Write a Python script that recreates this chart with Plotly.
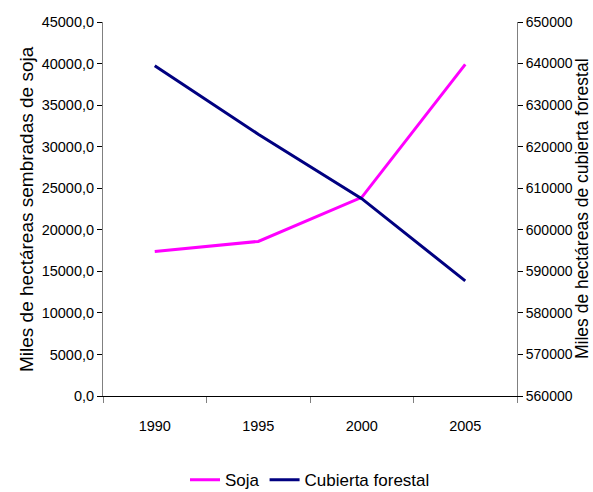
import plotly.graph_objects as go

years = ["1990", "1995", "2000", "2005"]
soja = [17400, 18600, 23900, 39900]
forest = [639500, 623000, 607500, 587700]

left_title = "Miles de hectáreas sembradas de soja"
right_title = "Miles de hectáreas de cubierta forestal"

FONT = "Liberation Sans, Arial, sans-serif"

fig = go.Figure()
fig.add_trace(go.Scatter(x=years, y=soja, name="Soja", mode="lines",
                         line=dict(color="#FF00FF", width=3)))
fig.add_trace(go.Scatter(x=years, y=forest, name="Cubierta forestal", mode="lines",
                         line=dict(color="#000080", width=3), yaxis="y2"))

fig.update_layout(
    width=593, height=492,
    margin=dict(l=103, r=76, t=22, b=96, autoexpand=False),
    plot_bgcolor="white", paper_bgcolor="white",
    font=dict(family=FONT, size=14.5, color="#000000"),
    separators=",.",
    showlegend=True,
    legend=dict(orientation="h", x=0.5, xanchor="center", y=-0.225, yanchor="middle",
                font=dict(size=17), tracegroupgap=0),
    xaxis=dict(type="category", showline=True, linecolor="#000000", linewidth=1,
               ticks="outside", tickson="boundaries", ticklen=6, tickcolor="#808080",
               showgrid=False, zeroline=False, range=[-0.5, 3.5], ticklabelstandoff=17,
               automargin=False),
    yaxis=dict(range=[0, 45000], dtick=5000, tickformat=".1f",
               showline=True, linecolor="#808080", linewidth=1,
               ticks="outside", ticklen=5, tickcolor="#000000",
               showgrid=False, zeroline=False, automargin=False),
    yaxis2=dict(range=[560000, 650000], dtick=10000, tickformat="d",
                overlaying="y", side="right",
                showline=True, linecolor="#808080", linewidth=1,
                ticks="outside", ticklen=5, tickcolor="#000000",
                showgrid=False, zeroline=False, automargin=False,
                tickfont=dict(size=14)),
    annotations=[
        dict(text=left_title, xref="paper", yref="paper", x=(26 - 103) / 414, y=0.5,
             xanchor="center", yanchor="middle", textangle=-90, showarrow=False,
             font=dict(size=19)),
        dict(text=right_title, xref="paper", yref="paper", x=(582 - 103) / 414, y=0.5,
             xanchor="center", yanchor="middle", textangle=-90, showarrow=False,
             font=dict(size=17.5)),
    ],
)

fig.write_html("out.html", config={"displayModeBar": False},
               post_script="document.body.style.margin='0px';")
